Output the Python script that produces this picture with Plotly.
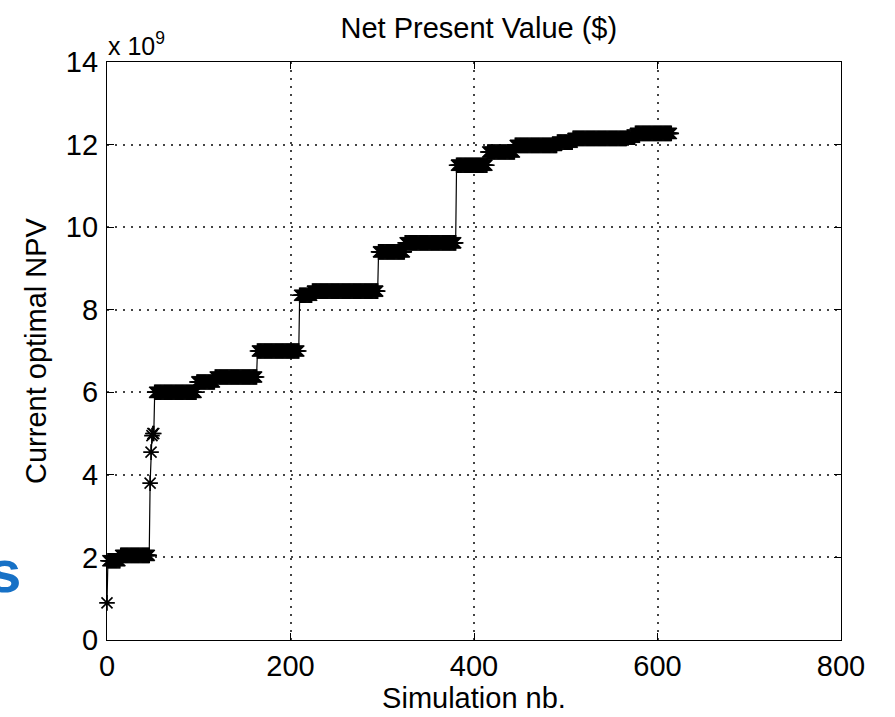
import numpy as np
import plotly.graph_objects as go

# Step plateaus of the current optimal NPV (in units of 1e9 $)
plateau_start = [0, 1, 15, 47, 48, 49, 50, 52, 98, 118, 164, 210, 224, 296, 325, 381, 415, 445, 491, 508, 567, 576]
plateau_value = [0.9, 1.92, 2.05, 3.8, 4.55, 4.95, 5.0, 6.0, 6.25, 6.37, 7.0, 8.35, 8.45, 9.4, 9.62, 11.5, 11.82, 11.98, 12.06, 12.15, 12.18, 12.27]
last_simulation = 615

x_ticks = [0, 200, 400, 600, 800]
y_ticks = [0, 2, 4, 6, 8, 10, 12, 14]

sims = np.arange(0, last_simulation + 1)
idx = np.searchsorted(plateau_start, sims, side="right") - 1
npv = np.array(plateau_value)[idx]

FONT = "Liberation Sans, Arial, Helvetica, sans-serif"

fig = go.Figure()
fig.add_trace(go.Scatter(
    x=sims, y=npv, mode="lines+markers",
    line=dict(color="black", width=1.2),
    marker=dict(symbol="asterisk-open", size=13, color="black",
                line=dict(color="black", width=1.6)),
    cliponaxis=False, showlegend=False,
))

axis_common = dict(
    showline=True, linecolor="black", linewidth=1.3, mirror="ticks",
    ticks="inside", ticklen=7, tickcolor="black",
    showgrid=True, gridcolor="#444444", gridwidth=1.5, griddash="1.5px,6.5px",
    zeroline=False, tickfont=dict(family=FONT, size=29, color="black"),
)

fig.update_xaxes(range=[0, 800], tickvals=x_ticks, ticklabelstandoff=0,
                 title=dict(text="Simulation nb.", font=dict(family=FONT, size=29, color="black"), standoff=2),
                 **axis_common)
fig.update_yaxes(range=[0, 14], tickvals=y_ticks, ticklabelstandoff=2,
                 title=dict(text="Current optimal NPV", font=dict(family=FONT, size=29, color="black"), standoff=10),
                 **axis_common)

fig.update_layout(
    width=895, height=717,
    margin=dict(l=107, r=54, t=62, b=77),
    paper_bgcolor="white", plot_bgcolor="white",
    title=dict(text="Net Present Value ($)", x=0.535, xanchor="center", y=0.9616, yanchor="middle",
               font=dict(family=FONT, size=29, color="black")),
    annotations=[
        dict(text="x 10<sup>9</sup>", xref="paper", yref="paper", x=-0.002, y=1.0,
             xanchor="left", yanchor="bottom", showarrow=False,
             font=dict(family=FONT, size=25, color="black")),
        dict(text="<b>s</b>", xref="paper", yref="paper", x=-0.1145, y=0.118,
             xanchor="right", yanchor="middle", showarrow=False,
             font=dict(family=FONT, size=60, color="#1771c6")),
    ],
)

fig.write_html("out.html")
